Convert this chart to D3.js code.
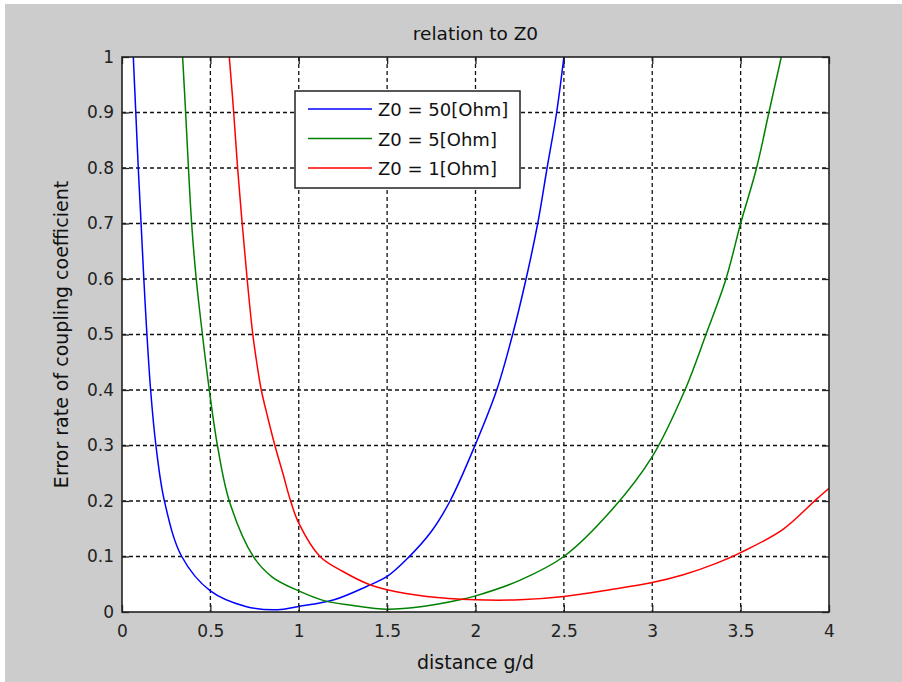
<!DOCTYPE html>
<html><head><meta charset="utf-8">
<script src="https://cdn.jsdelivr.net/npm/d3@7"></script>
<style>body{margin:0;background:#fff;}svg{display:block;}</style>
</head><body><svg id="c" width="902" height="682"></svg>
<script>
const titleText = "relation to Z0";
const xLabel = "distance g/d";
const yLabel = "Error rate of coupling coefficient";
const xTicks = [0, 0.5, 1, 1.5, 2, 2.5, 3, 3.5, 4];
const yTicks = [0, 0.1, 0.2, 0.3, 0.4, 0.5, 0.6, 0.7, 0.8, 0.9, 1];
const seriesNames = ["Z0 = 50[Ohm]", "Z0 = 5[Ohm]", "Z0 = 1[Ohm]"];
const seriesColors = ["#0000ff", "#008000", "#ff0000"];
const blueX = [0.064,0.078,0.092,0.108,0.132,0.162,0.192,0.24,0.338,0.5,0.7,0.88,1.0,1.2,1.384,1.5,1.62,1.75,1.856,1.997,2.12,2.21,2.286,2.352,2.405,2.459,2.5];
const blueY = [1,0.9,0.8,0.7,0.55,0.4,0.3,0.2,0.1,0.038,0.01,0.004,0.01,0.022,0.046,0.064,0.098,0.145,0.2,0.3,0.4,0.5,0.6,0.7,0.8,0.9,1.0];
const greenX = [0.343,0.36,0.376,0.394,0.42,0.455,0.494,0.54,0.607,0.743,0.85,1.0,1.148,1.3,1.5,1.7,1.912,2.0,2.25,2.5,2.76,3.0,3.185,3.304,3.417,3.5,3.59,3.66,3.73];
const greenY = [1,0.9,0.8,0.7,0.6,0.5,0.4,0.3,0.2,0.1,0.063,0.038,0.02,0.012,0.005,0.01,0.022,0.029,0.057,0.1,0.18,0.28,0.4,0.5,0.6,0.7,0.8,0.9,1.0];
const redX = [0.607,0.632,0.654,0.68,0.708,0.74,0.762,0.788,0.825,0.865,0.91,0.954,1.0,1.12,1.25,1.403,1.5,1.724,2.0,2.25,2.5,2.76,3.0,3.176,3.365,3.5,3.74,3.925,4.0];
const redY = [1,0.9,0.8,0.7,0.6,0.5,0.45,0.4,0.35,0.3,0.25,0.2,0.16,0.1,0.073,0.049,0.04,0.028,0.022,0.022,0.028,0.04,0.053,0.067,0.088,0.107,0.149,0.202,0.223];

const seriesX = [blueX, greenX, redX];
const seriesY = [blueY, greenY, redY];

const svg = d3.select("#c");
const W = 902, H = 682;
const m = {left:122, right:829, top:57, bottom:612};
svg.append("rect").attr("x",5).attr("y",4).attr("width",W-5).attr("height",H-4).attr("fill","#cccccc");

const x = d3.scaleLinear().domain([0,4]).range([m.left, m.right]);
const y = d3.scaleLinear().domain([0,1]).range([m.bottom, m.top]);
const font = "DejaVu Sans, Verdana, sans-serif";

svg.append("rect").attr("x",m.left).attr("y",m.top).attr("width",m.right-m.left).attr("height",m.bottom-m.top).attr("fill","#fff");

const clipId = "clipPlot";
svg.append("clipPath").attr("id",clipId).append("rect")
  .attr("x",m.left).attr("y",m.top).attr("width",m.right-m.left).attr("height",m.bottom-m.top);

// grid
const grid = svg.append("g");
grid.selectAll("line.gx").data(xTicks.slice(1,-1)).join("line")
  .attr("x1",d=>x(d)).attr("x2",d=>x(d)).attr("y1",m.top).attr("y2",m.bottom)
  .attr("stroke","#111").attr("stroke-width",1.3).attr("stroke-dasharray","4,3");
grid.selectAll("line.gy").data(yTicks.slice(1,-1)).join("line")
  .attr("y1",d=>y(d)).attr("y2",d=>y(d)).attr("x1",m.left).attr("x2",m.right)
  .attr("stroke","#111").attr("stroke-width",1.3).attr("stroke-dasharray","4,3");

// curves
const line = d3.line().x(d=>x(d[0])).y(d=>y(d[1])).curve(d3.curveCatmullRom.alpha(0.5));
const plot = svg.append("g").attr("clip-path",`url(#${clipId})`);
seriesX.forEach((xs,i)=>{
  const pts = xs.map((v,j)=>[v, seriesY[i][j]]);
  plot.append("path").datum(pts).attr("d",line).attr("fill","none")
    .attr("stroke",seriesColors[i]).attr("stroke-width",1.5);
});

// axes (ticks inward on all four sides)
const tl = 7;
const axB = d3.axisBottom(x).tickValues(xTicks).tickSize(-tl).tickPadding(13).tickFormat(d3.format("~g"));
const axT = d3.axisTop(x).tickValues(xTicks).tickSize(-tl).tickFormat("");
const axL = d3.axisLeft(y).tickValues(yTicks).tickSize(-tl).tickPadding(8).tickFormat(d3.format("~g"));
const axR = d3.axisRight(y).tickValues(yTicks).tickSize(-tl).tickFormat("");
function style(g){
  g.select(".domain").remove();
  g.selectAll(".tick line").attr("stroke","#222").attr("stroke-width",1.3);
  g.selectAll(".tick text").attr("fill","#222").style("font-family",font).style("font-size","17px");
}
svg.append("g").attr("transform",`translate(0,${m.bottom})`).call(axB).call(style);
svg.append("g").attr("transform",`translate(0,${m.top})`).call(axT).call(style);
svg.append("g").attr("transform",`translate(${m.left},0)`).call(axL).call(style);
svg.append("g").attr("transform",`translate(${m.right},0)`).call(axR).call(style);

svg.append("rect").attr("x",m.left).attr("y",m.top).attr("width",m.right-m.left).attr("height",m.bottom-m.top)
  .attr("fill","none").attr("stroke","#222").attr("stroke-width",1.6);

// texts
svg.append("text").attr("x",(m.left+m.right)/2).attr("y",40).attr("text-anchor","middle")
  .style("font-family",font).style("font-size","18.5px").attr("fill","#111").text(titleText);
svg.append("text").attr("x",(m.left+m.right)/2).attr("y",669).attr("text-anchor","middle")
  .style("font-family",font).style("font-size","19px").attr("fill","#111").text(xLabel);
svg.append("text").attr("transform",`translate(68,${(m.top+m.bottom)/2}) rotate(-90)`).attr("text-anchor","middle")
  .style("font-family",font).style("font-size","19px").attr("fill","#111").text(yLabel);

// legend
const lg = svg.append("g");
lg.append("rect").attr("x",295).attr("y",91).attr("width",225).attr("height",97)
  .attr("fill","#fff").attr("stroke","#222").attr("stroke-width",1.5);
seriesNames.forEach((n,i)=>{
  const yy = 109 + i*29.5;
  lg.append("line").attr("x1",308).attr("x2",372).attr("y1",yy).attr("y2",yy)
    .attr("stroke",seriesColors[i]).attr("stroke-width",1.5);
  lg.append("text").attr("x",378).attr("y",yy+7).style("font-family",font).style("font-size","18px")
    .attr("fill","#111").text(n);
});
</script></body></html>
